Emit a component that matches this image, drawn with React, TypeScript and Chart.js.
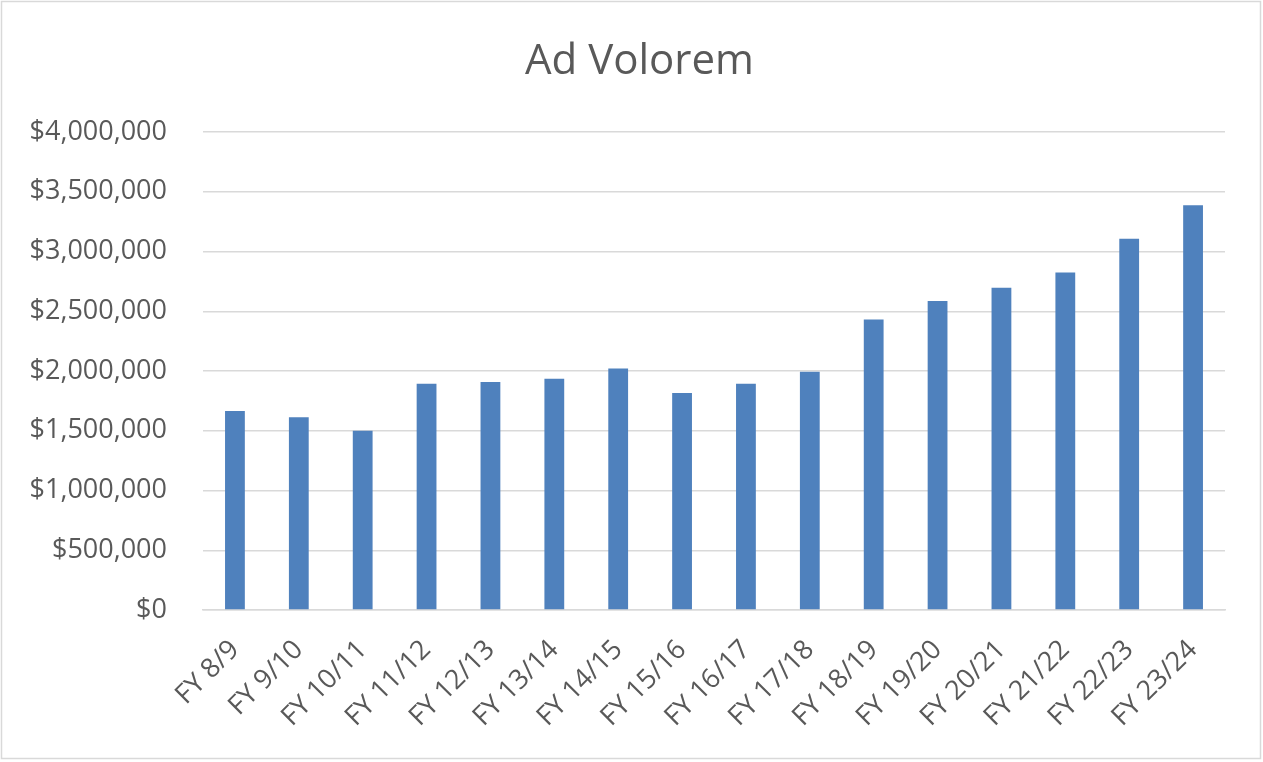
import React, { useEffect, useRef } from "react";
import { Chart, registerables } from "chart.js";

Chart.register(...registerables);

const categories = [
  "FY 8/9", "FY 9/10", "FY 10/11", "FY 11/12", "FY 12/13", "FY 13/14", "FY 14/15", "FY 15/16",
  "FY 16/17", "FY 17/18", "FY 18/19", "FY 19/20", "FY 20/21", "FY 21/22", "FY 22/23", "FY 23/24",
];
const adValorem = [
  1665000, 1612000, 1500000, 1893000, 1907000, 1935000, 2020000, 1815000,
  1893000, 1993000, 2430000, 2586000, 2697000, 2825000, 3106000, 3388000,
];
const yTicks = [0, 500000, 1000000, 1500000, 2000000, 2500000, 3000000, 3500000, 4000000];
const chartTitle = "Ad Volorem";

const frame = {
  id: "frame",
  beforeDraw(chart: any) {
    const { ctx, width, height } = chart;
    ctx.save();
    ctx.fillStyle = "#ffffff";
    ctx.fillRect(0, 0, width, height);
    ctx.strokeStyle = "#d9d9d9";
    ctx.lineWidth = 1.5;
    ctx.strokeRect(1.5, 1.5, width - 4, height - 5);
    ctx.restore();
  },
  afterDraw(chart: any) {
    const { ctx, chartArea } = chart;
    ctx.save();
    ctx.fillStyle = "#595959";
    ctx.font = "42px 'Open Sans'";
    ctx.textAlign = "center";
    ctx.textBaseline = "middle";
    // centred over the whole chart frame (Excel-style), placed above the plot area
    ctx.fillText(chartTitle, (54 + chartArea.right) / 2, chartArea.top - 70);
    ctx.restore();
  },
};

export default function App() {
  const ref = useRef<HTMLCanvasElement>(null);
  useEffect(() => {
    const fmt = (v: number) => "$" + v.toLocaleString("en-US");
    const chart = new Chart(ref.current!, {
      type: "bar",
      data: {
        labels: categories,
        datasets: [
          {
            label: chartTitle,
            data: adValorem,
            backgroundColor: "#4f81bd",
            borderWidth: 0,
            barPercentage: 0.62,
            categoryPercentage: 0.5,
          },
        ],
      },
      plugins: [frame],
      options: {
        animation: false,
        responsive: false,
        maintainAspectRatio: false,
        layout: { padding: { left: 0, right: 38, top: 132, bottom: 0 } },
        plugins: {
          legend: { display: false },
          tooltip: { enabled: false },
          title: { display: false },
        },
        scales: {
          x: {
            grid: { display: false, drawTicks: false },
            border: { display: true, color: "#d9d9d9", width: 1.5 },
            ticks: {
              autoSkip: false,
              minRotation: 45,
              maxRotation: 45,
              padding: 24,
              color: "#595959",
              font: { family: "'Open Sans'", size: 27 },
            },
            afterFit: (s: any) => {
              s.height = 152;
            },
          },
          y: {
            min: 0,
            max: 4000000,
            afterBuildTicks: (s: any) => {
              s.ticks = yTicks.map((v) => ({ value: v }));
            },
            grid: { color: "#d9d9d9", lineWidth: 1.5, drawTicks: false },
            border: { display: false },
            ticks: {
              padding: 36,
              color: "#595959",
              font: { family: "'Open Sans'", size: 27 },
              callback: (v: any) => fmt(Number(v)),
            },
            afterFit: (s: any) => {
              s.width = 203;
            },
          },
        },
      },
    });
    return () => chart.destroy();
  }, []);
  return (
    <div style={{ position: "absolute", left: 0, top: 0, width: 1263, height: 762 }}>
      <canvas ref={ref} width={1263} height={762} style={{ display: "block" }} />
    </div>
  );
}
